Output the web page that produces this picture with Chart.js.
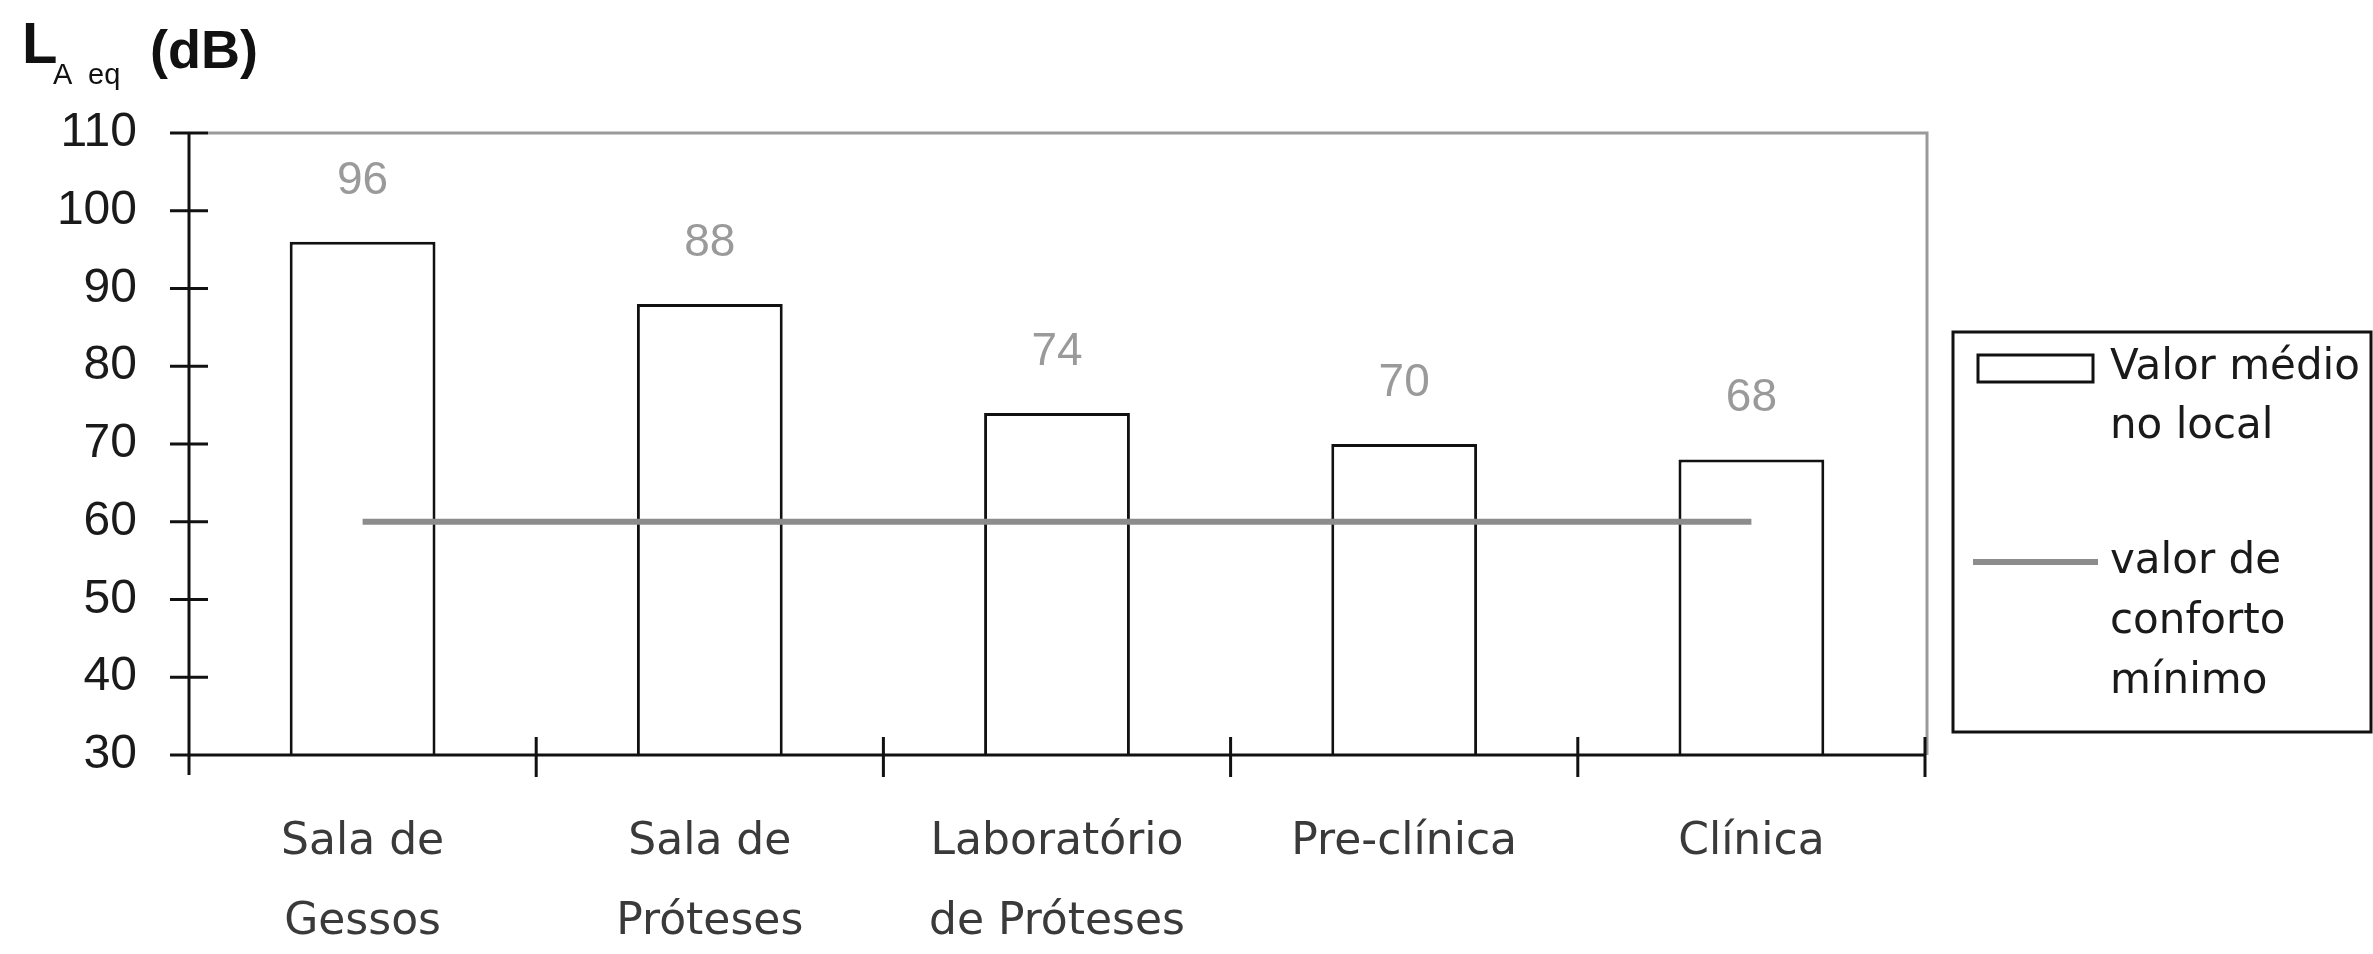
<!DOCTYPE html>
<html>
<head>
<meta charset="utf-8">
<script src="https://cdn.jsdelivr.net/npm/chart.js@4/dist/chart.umd.min.js"></script>
<style>
  html, body { margin: 0; padding: 0; background: #fff; }
  #wrap { width: 2373px; height: 954px; }
</style>
</head>
<body>
<div id="wrap"><canvas id="c" width="2373" height="954"></canvas></div>
<script>
// Rooms measured
const categories = [["Sala de", "Gessos"], ["Sala de", "Próteses"], ["Laboratório", "de Próteses"], "Pre-clínica", "Clínica"];
// Mean equivalent level in each room, dB(A)
const meanLevels = [96, 88, 74, 70, 68];
// Minimum comfort reference level, dB(A)
const comfortLevels = [60, 60, 60, 60, 60];
// Y axis range and step
const yMin = 30;
const yMax = 110;
const yStep = 10;
// Series names (legend lines)
const meanLabel = ["Valor médio", "no local"];
const comfortLabel = ["valor de", "conforto", "mínimo"];

const SANS = '"Liberation Sans", Arial, sans-serif';
const GEO = '"DejaVu Sans", sans-serif';

const chartDecor = {
  id: 'chartDecor',
  afterDatasetsDraw(chart) {
    const ctx = chart.ctx;
    const meta = chart.getDatasetMeta(1);
    ctx.save();
    ctx.fillStyle = '#9a9a9a';
    ctx.font = '46px ' + SANS;
    ctx.textAlign = 'center';
    ctx.textBaseline = 'middle';
    meta.data.forEach((bar, i) => {
      ctx.fillText(String(meanLevels[i]), bar.x, bar.y - 61);
    });
    ctx.restore();
  },
  afterDraw(chart) {
    const { ctx, chartArea: a, scales: { x, y } } = chart;
    ctx.save();
    // light frame on top and right of the plot
    ctx.strokeStyle = '#9a9a9a';
    ctx.lineWidth = 3;
    ctx.beginPath();
    ctx.moveTo(a.left + 19, a.top);
    ctx.lineTo(a.right + 2, a.top);
    ctx.lineTo(a.right + 2, a.bottom);
    ctx.stroke();

    // axes and crossing tick marks
    ctx.strokeStyle = '#111';
    ctx.lineWidth = 3;
    ctx.beginPath();
    ctx.moveTo(a.left, a.top);
    ctx.lineTo(a.left, a.bottom + 20);
    ctx.moveTo(a.left - 19, a.bottom);
    ctx.lineTo(a.right, a.bottom);
    y.ticks.forEach(t => {
      const py = y.getPixelForValue(t.value);
      ctx.moveTo(a.left - 19, py);
      ctx.lineTo(a.left + 19, py);
    });
    for (let i = 1; i <= categories.length; i++) {
      const px = x.getPixelForValue(i - 0.5);
      ctx.moveTo(px, a.bottom - 18);
      ctx.lineTo(px, a.bottom + 22);
    }
    ctx.stroke();

    // axis title L_Aeq (dB)
    ctx.fillStyle = '#111';
    ctx.textBaseline = 'alphabetic';
    ctx.textAlign = 'left';
    ctx.font = 'bold 58px ' + SANS;
    ctx.fillText('L', 22, 63);
    ctx.font = '29px ' + SANS;
    ctx.fillText('A', 53, 84);
    ctx.fillText('eq', 88, 84);
    ctx.font = 'bold 54px ' + SANS;
    ctx.fillText('(dB)', 150, 68);

    // legend box
    const lx = 1953, ly = 332, lw = 418, lh = 400;
    ctx.strokeStyle = '#111';
    ctx.lineWidth = 3;
    ctx.strokeRect(lx, ly, lw, lh);
    ctx.strokeRect(1978, 355, 115, 27);
    ctx.strokeStyle = '#8c8c8c';
    ctx.lineWidth = 6;
    ctx.beginPath();
    ctx.moveTo(1973, 562);
    ctx.lineTo(2098, 562);
    ctx.stroke();
    ctx.fillStyle = '#1a1a1a';
    ctx.font = '42px ' + GEO;
    ctx.textBaseline = 'middle';
    meanLabel.forEach((t, i) => ctx.fillText(t, 2110, 368 + i * 59));
    comfortLabel.forEach((t, i) => ctx.fillText(t, 2110, 562 + i * 60));
    ctx.restore();
  }
};

new Chart(document.getElementById('c'), {
  data: {
    labels: categories,
    datasets: [
      {
        type: 'line',
        label: comfortLabel.join(' '),
        data: comfortLevels,
        borderColor: '#8c8c8c',
        borderWidth: 6,
        pointRadius: 0,
        tension: 0,
        order: 1
      },
      {
        type: 'bar',
        label: meanLabel.join(' '),
        data: meanLevels,
        backgroundColor: '#ffffff',
        borderColor: '#111111',
        borderWidth: 3,
        borderSkipped: 'bottom',
        categoryPercentage: 1,
        barPercentage: 0.42,
        order: 2
      }
    ]
  },
  options: {
    responsive: false,
    animation: false,
    devicePixelRatio: 1,
    layout: { padding: { top: 133, right: 448, left: 0, bottom: 0 } },
    plugins: { legend: { display: false }, tooltip: { enabled: false } },
    scales: {
      x: {
        offset: true,
        grid: { display: false, drawTicks: false },
        border: { display: false },
        ticks: {
          color: '#3a3a3a',
          font: { family: GEO, size: 44, lineHeight: 80 / 44 },
          padding: 48,
          maxRotation: 0,
          autoSkip: false
        },
        afterFit(scale) { scale.height = 199; }
      },
      y: {
        min: yMin,
        max: yMax,
        grid: { display: false, drawTicks: false },
        border: { display: false },
        ticks: {
          stepSize: yStep,
          color: '#1a1a1a',
          font: { family: SANS, size: 48 },
          padding: 52
        },
        afterFit(scale) { scale.width = 189; }
      }
    }
  },
  plugins: [chartDecor]
});
</script>
</body>
</html>
